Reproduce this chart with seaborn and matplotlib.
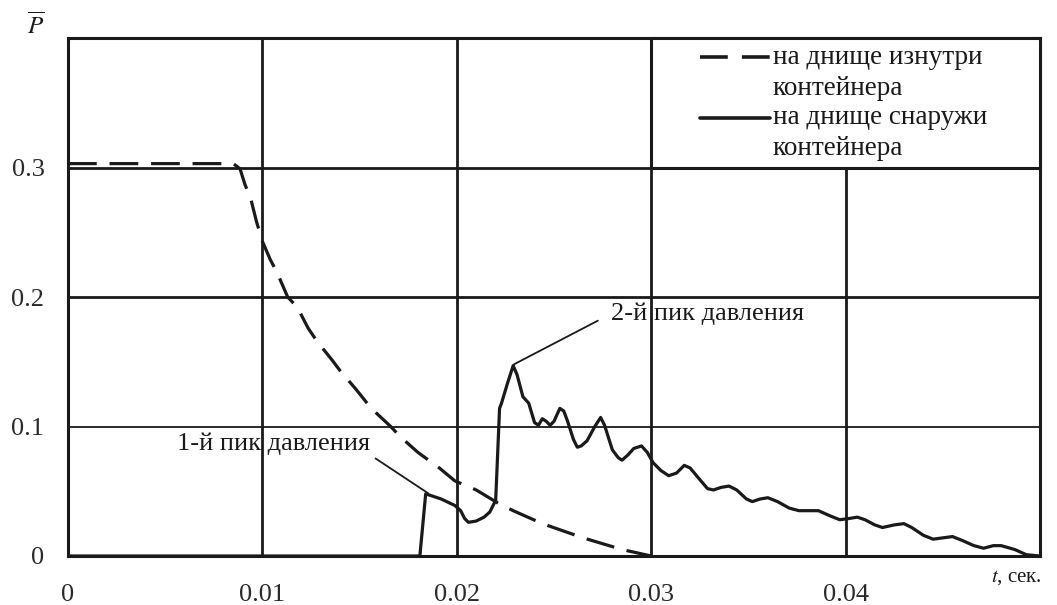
import numpy as np
import pandas as pd
import matplotlib
matplotlib.use("Agg")
import matplotlib.pyplot as plt
from matplotlib.patches import Rectangle
import seaborn as sns

# ---- data ----
t_inside = [0, 0.0085, 0.00885, 0.0091, 0.0094, 0.0097, 0.0100, 0.0104, 0.01075,
            0.0113, 0.0118, 0.01235, 0.0128, 0.0136, 0.0140, 0.0148, 0.0156,
            0.0166, 0.0171, 0.0180, 0.0191, 0.0199, 0.0210, 0.0221, 0.0229,
            0.0244, 0.0265, 0.0285, 0.0300]
p_inside = [0.303, 0.303, 0.299, 0.287, 0.276, 0.258, 0.243, 0.229, 0.219,
            0.200, 0.192, 0.176, 0.166, 0.151, 0.143, 0.129, 0.114,
            0.100, 0.092, 0.080, 0.068, 0.058, 0.051, 0.041, 0.035,
            0.025, 0.014, 0.005, 0.000]

t_outside = [0, 0.0181, 0.0184, 0.0192, 0.0199, 0.0202, 0.0204, 0.0206, 0.0210,
             0.0214, 0.0217, 0.0219, 0.0220, 0.0222, 0.0223, 0.0226, 0.0229,
             0.0231, 0.0234, 0.0237, 0.0240, 0.0242, 0.0244, 0.0246, 0.0248,
             0.0250, 0.0253, 0.0255, 0.0257, 0.0260, 0.0262, 0.0264, 0.0267,
             0.0271, 0.0274, 0.0276, 0.0280, 0.0283, 0.0285, 0.0288, 0.0291,
             0.0295, 0.0298, 0.0301, 0.0305, 0.0309, 0.0313, 0.0317, 0.0320,
             0.0325, 0.0329, 0.0332, 0.0336, 0.0340, 0.0344, 0.0349, 0.0352,
             0.0356, 0.0360, 0.0365, 0.0371, 0.0376, 0.0381, 0.0386, 0.0392,
             0.0397, 0.0402, 0.0406, 0.0410, 0.0415, 0.0419, 0.0425, 0.0430,
             0.0434, 0.0440, 0.0445, 0.0450, 0.0455, 0.0460, 0.0466, 0.0471,
             0.0476, 0.0480, 0.0487, 0.0493, 0.0500]
p_outside = [0, 0, 0.048, 0.044, 0.039, 0.035, 0.029, 0.026, 0.027,
             0.030, 0.034, 0.040, 0.043, 0.114, 0.118, 0.133, 0.147,
             0.140, 0.123, 0.118, 0.103, 0.101, 0.106, 0.104, 0.101,
             0.104, 0.114, 0.112, 0.104, 0.090, 0.084, 0.085, 0.089,
             0.100, 0.107, 0.101, 0.082, 0.076, 0.074, 0.078, 0.083,
             0.085, 0.080, 0.072, 0.066, 0.062, 0.064, 0.070, 0.068,
             0.059, 0.052, 0.051, 0.053, 0.054, 0.051, 0.044, 0.042,
             0.044, 0.045, 0.042, 0.037, 0.035, 0.035, 0.035, 0.031,
             0.028, 0.029, 0.030, 0.028, 0.024, 0.022, 0.024, 0.025,
             0.022, 0.016, 0.013, 0.014, 0.015, 0.012, 0.008, 0.006,
             0.008, 0.008, 0.005, 0.001, 0.000]

x_ticks = [0, 0.01, 0.02, 0.03, 0.04]
x_tick_labels = ["0", "0.01", "0.02", "0.03", "0.04"]
y_ticks = [0, 0.1, 0.2, 0.3, 0.4]
y_tick_labels = ["0", "0.1", "0.2", "0.3", ""]

label_inside = ["на днище изнутри", "контейнера"]
label_outside = ["на днище снаружи", "контейнера"]
peak1_text = "1-й пик давления"
peak2_text = "2-й пик давления"

# ---- styling ----
sns.set_theme(style="white")
plt.rcParams["font.family"] = ["Liberation Serif", "DejaVu Serif"]
plt.rcParams["mathtext.fontset"] = "stix"

df_in = pd.DataFrame({"t": t_inside, "p": p_inside})
df_out = pd.DataFrame({"t": t_outside, "p": p_outside})

fig = plt.figure(figsize=(10.57, 6.05), dpi=100)
ax = fig.add_axes([68 / 1057, 49 / 605, 972 / 1057, 518 / 605])

ink = "#1a1a1a"
sns.lineplot(data=df_in, x="t", y="p", ax=ax, color=ink, lw=2.3,
             linestyle=(0, (9, 4)), estimator=None, sort=False, zorder=4)
sns.lineplot(data=df_out, x="t", y="p", ax=ax, color=ink, lw=2.3,
             estimator=None, sort=False, zorder=4)

ax.set_xlim(0, 0.05)
ax.set_ylim(0, 0.4)
ax.set_xticks(x_ticks)
ax.set_xticklabels(x_tick_labels)
ax.set_yticks(y_ticks)
ax.set_yticklabels(y_tick_labels)
ax.set_xlabel("")
ax.set_ylabel("")
ax.tick_params(axis="both", length=0, labelsize=19, labelcolor="#2a2a2a")
ax.tick_params(axis="x", pad=20)
ax.tick_params(axis="y", pad=17)

ax.grid(True, color=ink, lw=2.0, zorder=1)
ax.set_axisbelow(True)
for i, gl in enumerate(ax.yaxis.get_gridlines()):
    if y_ticks[i] == 0.1:
        gl.set_linewidth(1.3)

for sp in ax.spines.values():
    sp.set_visible(True)
    sp.set_color(ink)
    sp.set_linewidth(2.2)

# ---- legend box (top-right cell) ----
ax.add_patch(Rectangle((0.6, 0.75), 0.4, 0.25, transform=ax.transAxes,
                       facecolor="white", edgecolor=ink, lw=2.2, zorder=5,
                       clip_on=False))
hx0, hx1 = 0.650, 0.722
ax.plot([hx0, hx1], [0.963, 0.963], transform=ax.transAxes, color=ink,
        lw=2.6, linestyle=(0, (7.7, 3.9)), zorder=6)
ax.plot([hx0, hx1], [0.846, 0.846], transform=ax.transAxes, color=ink,
        lw=2.6, zorder=6)
leg_y = [0.963, 0.903, 0.846, 0.786]
for yy, txt in zip(leg_y, label_inside + label_outside):
    ax.text(0.725, yy, txt, transform=ax.transAxes, ha="left", va="center",
            fontsize=19.5, color=ink, zorder=6)

# ---- annotations ----
ax.annotate(peak1_text, xy=(0.01852, 0.0485), xytext=(0.01553, 0.0869),
            ha="right", va="center", fontsize=19, color=ink, zorder=6,
            arrowprops=dict(arrowstyle="-", color=ink, lw=1.3,
                            relpos=(1.0, 0.0), shrinkA=2, shrinkB=0))
ax.annotate(peak2_text, xy=(0.02294, 0.148), xytext=(0.02793, 0.187),
            ha="left", va="center", fontsize=19, color=ink, zorder=6,
            arrowprops=dict(arrowstyle="-", color=ink, lw=1.3,
                            relpos=(0.0, 0.5), shrinkA=8, shrinkB=0))

# axis titles
fig.text(36 / 1057, 1 - 25 / 605, r"$\overline{P}$", ha="center", va="center",
         fontsize=18, color=ink)
ax.text(0.976, -0.042, r"$t$, сек.", transform=ax.transAxes, ha="center",
        va="center", fontsize=15, color=ink)

fig.savefig("out.png", dpi=100, facecolor="white")
